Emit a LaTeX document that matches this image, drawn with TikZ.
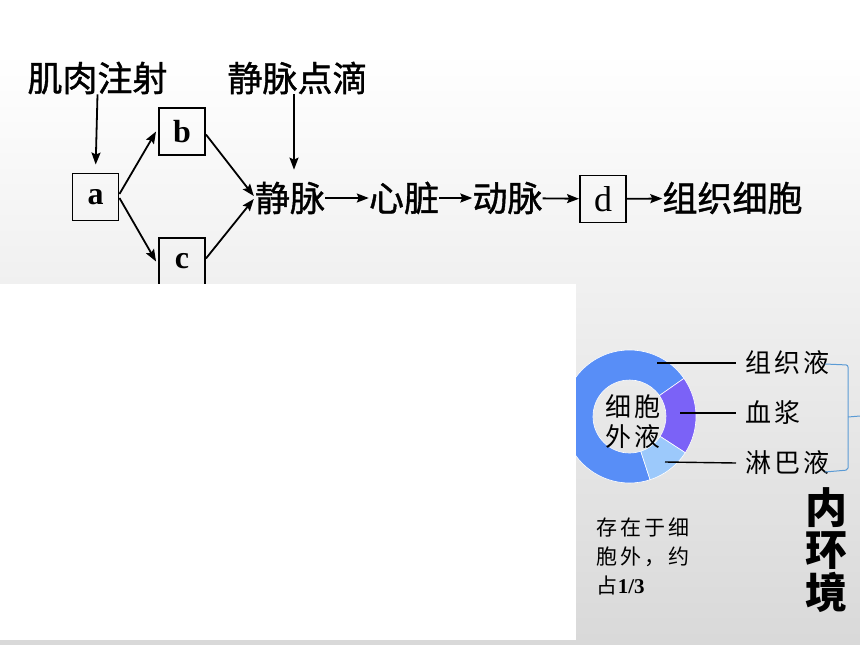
\documentclass[tikz,border=0pt]{standalone}
\usepackage{fontspec}
\setmainfont{Liberation Serif}
\newfontfamily\cjk{Noto Sans CJK SC}
\newfontfamily\cjkm{Noto Sans CJK SC}[FakeBold=1.2]
\newfontfamily\cjksp{Noto Sans CJK SC}[LetterSpace=13]
\usetikzlibrary{arrows.meta}
\definecolor{donutA}{RGB}{88,142,247}
\definecolor{donutB}{RGB}{123,98,247}
\definecolor{donutC}{RGB}{156,201,251}
\definecolor{brkblue}{RGB}{91,155,213}
\begin{document}
\begin{tikzpicture}[x=1pt,y=-1pt,
  big/.style={inner sep=0pt, font=\cjkm\fontsize{35}{40}\selectfont},
  lbox/.style={draw, line width=1.9pt, minimum width=46pt, minimum height=47pt, inner sep=0pt, font=\fontsize{32}{32}\selectfont\bfseries},
  arr/.style={line width=1.8pt, -{Stealth[length=12pt,width=9pt,inset=2pt]}},
  lab/.style={inner sep=0pt, anchor=west, font=\cjksp\fontsize{26}{30}\selectfont},
  lead/.style={line width=1.4pt},
  seg/.style={draw=white, line width=0.6pt}
  ]
\useasboundingbox (0,0) rectangle (860,645);
% background
\fill[white] (0,0) rectangle (860,645);
\shade[top color=white, bottom color=gray!30] (0,52) rectangle (860,645);

% top flow diagram
\node[big] (jr) at (97.5,78) {肌肉注射};
\node[big] (jm) at (297.5,78) {静脉点滴};
\node[lbox] (a) at (95.5,197) {a};
\node[lbox] (b) at (182,131.5) {b};
\node[lbox] (c) at (182,261.5) {c};
\node[big] (jv) at (290,198) {静脉};
\node[big] (hz) at (404,198) {心脏};
\node[big] (dm) at (507.5,198) {动脉};
\node[lbox, font=\fontsize{36}{36}\selectfont] (d) at (603,199) {d};
\node[big] (zx) at (732.5,198) {组织细胞};

\draw[arr, shorten >=8pt] (jr.south) -- (a.north);
\draw[arr, shorten >=12pt] ([xshift=-3.5pt]jm.south) -- ([xshift=-3.5pt]jm.south |- jv.north);
\draw[arr] ([yshift=3pt]a.east) -- ([xshift=-2pt]b.west);
\draw[arr] ([yshift=-1pt]a.east) -- ([xshift=-2pt]c.west);
\draw[arr] ([yshift=-3pt]b.east) -- ([yshift=2pt,xshift=-1pt]jv.west);
\draw[arr] ([yshift=3pt]c.east) -- ([yshift=-1pt,xshift=-1pt]jv.west);
\draw[arr] (jv) -- (hz);
\draw[arr] (hz) -- (dm);
\draw[arr] (dm) -- (d);
\draw[arr] (d) -- (zx);

% donut
\begin{scope}[shift={(629.5,416.5)}]
\filldraw[fill=donutA, seg] (35:36.5pt) -- (35:66.5pt) arc[start angle=35,end angle=288,radius=66.5pt] -- (288:36.5pt) arc[start angle=288,end angle=35,radius=36.5pt] -- cycle;
\filldraw[fill=donutB, seg] (-33:36.5pt) -- (-33:66.5pt) arc[start angle=-33,end angle=35,radius=66.5pt] -- (35:36.5pt) arc[start angle=35,end angle=-33,radius=36.5pt] -- cycle;
\filldraw[fill=donutC, seg] (-72:36.5pt) -- (-72:66.5pt) arc[start angle=-72,end angle=-33,radius=66.5pt] -- (-33:36.5pt) arc[start angle=-33,end angle=-72,radius=36.5pt] -- cycle;
\end{scope}

% white panel
\fill[white] (0,284) rectangle (576,640);

% labels
\node[inner sep=0pt, align=center, font=\cjksp\fontsize{26}{30}\selectfont] (xbwy) at (633,422) {细胞\\外液};
\node[lab] (zzy) at (745,363) {组织液};
\node[lab] (xj) at (745,413) {血浆};
\node[lab] (lby) at (745,463) {淋巴液};
\coordinate (p1) at (657,363);
\coordinate (p2) at (680,413);
\coordinate (p3) at (665,462);
\draw[lead] (p1) -- ([xshift=-9pt]zzy.west);
\draw[lead] (p2) -- ([xshift=-9pt]xj.west);
\draw[lead] (p3) -- ([xshift=-9pt]lby.west);

\draw[brkblue, line width=1pt, rounded corners=2pt] (825,364) -- (848,365) -- (848,470) -- (825,472);
\draw[brkblue, line width=1pt] (848,417) -- (860,416);

\node[inner sep=0pt, align=left, font=\cjksp\fontsize{21}{29}\selectfont] (note) at (643,556) {存在于细\\胞外，约\\占{\rmfamily\bfseries 1/3}};
\node[inner sep=0pt, align=center, font=\cjk\bfseries\fontsize{42}{42.5}\selectfont] (nhj) at (826,550) {内\\环\\境};
\end{tikzpicture}
\end{document}
